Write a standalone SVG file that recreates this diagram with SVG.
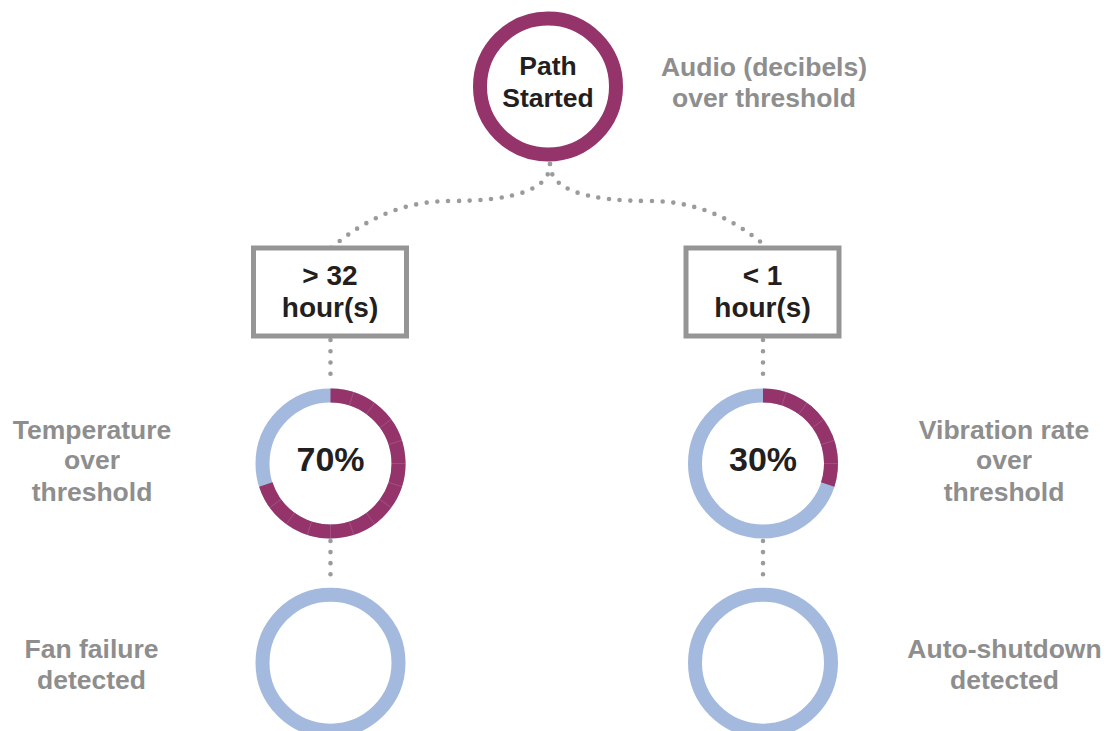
<svg xmlns="http://www.w3.org/2000/svg" width="1109" height="731" viewBox="0 0 1109 731">
  <style>
    .lbl { font-family: "Liberation Sans", Arial, Helvetica, sans-serif; font-weight: bold; text-anchor: middle; }
    .dark { fill: #231F20; }
    .side { fill: #8E8E8E; font-size: 26.5px; }
    .ring { fill: #FFFFFF; stroke-width: 14; }
    .purple { stroke: #94346B; }
    .blue { stroke: #A4B9DE; }
    .arc { fill: none; stroke: #94346B; stroke-width: 14; stroke-linecap: butt; }
    .tick { stroke: #FFFFFF; stroke-opacity: 0.16; stroke-width: 0.8; }
    .box { fill: #FFFFFF; stroke: #959595; stroke-width: 5; }
    .dots { fill: none; stroke: #9B9B9B; stroke-width: 4.6; stroke-linecap: round; }
  </style>

  <rect width="1109" height="731" fill="#FFFFFF"/>

  <!-- dotted connectors -->
  <g id="connectors" class="dots">
    <path d="M550,164 Q550,201 450,201 Q385,201 330,249" stroke-dasharray="0 10.7"/>
    <path d="M550,164 Q550,201 650,201 Q715,201 769,249" stroke-dasharray="0 10.7"/>
    <path d="M330.5,340 V385" stroke-dasharray="0 11.25"/>
    <path d="M330.5,541 V585.3" stroke-dasharray="0 11.075"/>
    <path d="M763,340 V385" stroke-dasharray="0 11.25"/>
    <path d="M763,541 V585.3" stroke-dasharray="0 11.075"/>
  </g>

  <!-- start node -->
  <g id="start">
    <circle class="ring purple" cx="548" cy="86.5" r="68" stroke-width="13.5"/>
    <text class="lbl dark" x="548" y="75" font-size="26.5">Path</text>
    <text class="lbl dark" x="548" y="107" font-size="26.5">Started</text>
  </g>
  <g id="start-label">
    <text class="lbl side" x="764" y="75.5">Audio (decibels)</text>
    <text class="lbl side" x="764" y="107">over threshold</text>
  </g>

  <!-- duration boxes -->
  <g id="box-left">
    <rect class="box" x="253.5" y="248" width="153" height="88"/>
    <text class="lbl dark" x="330" y="285" font-size="28">&gt; 32</text>
    <text class="lbl dark" x="330" y="317" font-size="28">hour(s)</text>
  </g>
  <g id="box-right">
    <rect class="box" x="686" y="248" width="153" height="88"/>
    <text class="lbl dark" x="762.5" y="285" font-size="28">&lt; 1</text>
    <text class="lbl dark" x="762.5" y="317" font-size="28">hour(s)</text>
  </g>

  <!-- 70% progress ring -->
  <g id="ring-70">
    <circle class="ring blue" cx="330.5" cy="463.5" r="68"/>
    <path class="arc" d="M330.5,395.5 A68,68 0 1 1 265.83,484.51"/>
    <g class="tick" transform="translate(330.5 463.5)">
      <line x1="0" y1="-61" x2="0" y2="-75" transform="rotate(18)"/>
      <line x1="0" y1="-61" x2="0" y2="-75" transform="rotate(36)"/>
      <line x1="0" y1="-61" x2="0" y2="-75" transform="rotate(54)"/>
      <line x1="0" y1="-61" x2="0" y2="-75" transform="rotate(72)"/>
      <line x1="0" y1="-61" x2="0" y2="-75" transform="rotate(90)"/>
      <line x1="0" y1="-61" x2="0" y2="-75" transform="rotate(108)"/>
      <line x1="0" y1="-61" x2="0" y2="-75" transform="rotate(126)"/>
      <line x1="0" y1="-61" x2="0" y2="-75" transform="rotate(144)"/>
      <line x1="0" y1="-61" x2="0" y2="-75" transform="rotate(162)"/>
      <line x1="0" y1="-61" x2="0" y2="-75" transform="rotate(180)"/>
      <line x1="0" y1="-61" x2="0" y2="-75" transform="rotate(198)"/>
      <line x1="0" y1="-61" x2="0" y2="-75" transform="rotate(216)"/>
      <line x1="0" y1="-61" x2="0" y2="-75" transform="rotate(234)"/>
    </g>
    <text class="lbl dark" x="330.5" y="471" font-size="34">70%</text>
  </g>
  <g id="ring-70-label">
    <text class="lbl side" x="92" y="438.5">Temperature</text>
    <text class="lbl side" x="92" y="469">over</text>
    <text class="lbl side" x="92" y="500.5">threshold</text>
  </g>

  <!-- 30% progress ring -->
  <g id="ring-30">
    <circle class="ring blue" cx="763" cy="463.5" r="68"/>
    <path class="arc" d="M763,395.5 A68,68 0 0 1 827.67,484.51"/>
    <g class="tick" transform="translate(763 463.5)">
      <line x1="0" y1="-61" x2="0" y2="-75" transform="rotate(18)"/>
      <line x1="0" y1="-61" x2="0" y2="-75" transform="rotate(36)"/>
      <line x1="0" y1="-61" x2="0" y2="-75" transform="rotate(54)"/>
      <line x1="0" y1="-61" x2="0" y2="-75" transform="rotate(72)"/>
      <line x1="0" y1="-61" x2="0" y2="-75" transform="rotate(90)"/>
    </g>
    <text class="lbl dark" x="763" y="471" font-size="34">30%</text>
  </g>
  <g id="ring-30-label">
    <text class="lbl side" x="1004" y="438.5">Vibration rate</text>
    <text class="lbl side" x="1004" y="469">over</text>
    <text class="lbl side" x="1004" y="500.5">threshold</text>
  </g>

  <!-- outcome nodes -->
  <g id="outcome-left">
    <circle class="ring blue" cx="330.5" cy="662.7" r="68"/>
  </g>
  <g id="outcome-left-label">
    <text class="lbl side" x="91.5" y="658">Fan failure</text>
    <text class="lbl side" x="91.5" y="689">detected</text>
  </g>
  <g id="outcome-right">
    <circle class="ring blue" cx="763" cy="662.7" r="68"/>
  </g>
  <g id="outcome-right-label">
    <text class="lbl side" x="1004.5" y="658">Auto-shutdown</text>
    <text class="lbl side" x="1004.5" y="689">detected</text>
  </g>
</svg>
